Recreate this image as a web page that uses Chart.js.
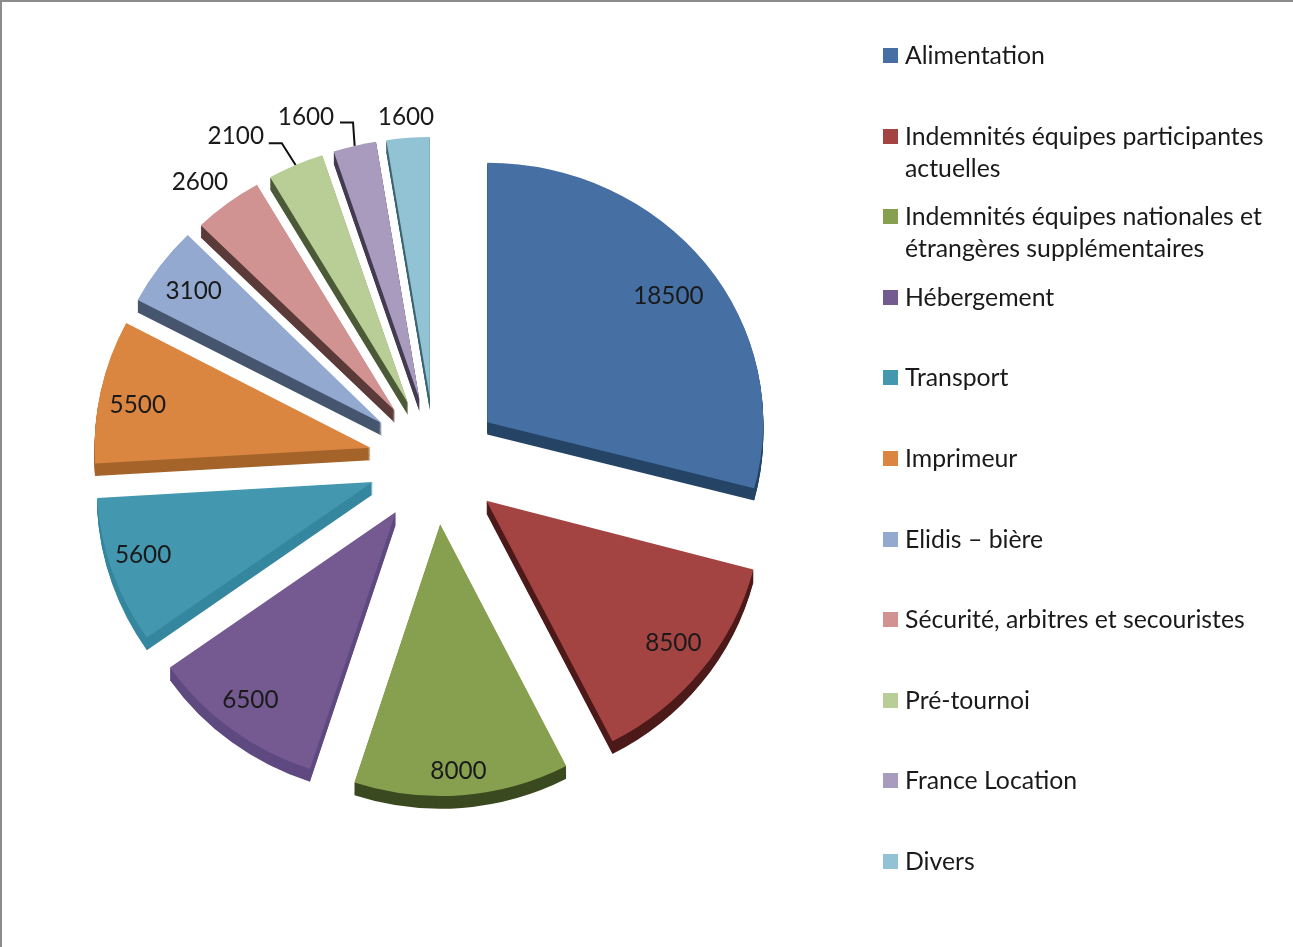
<!DOCTYPE html>
<html lang="fr">
<head>
<meta charset="utf-8">
<title>Budget</title>
<script src="https://cdn.jsdelivr.net/npm/chart.js@4"></script>
<style>
  html, body { margin: 0; padding: 0; background: #fff; }
  #wrap { position: relative; width: 1293px; height: 947px; overflow: hidden; }
  #frame { position: absolute; left: 0; top: 0; width: 1293px; height: 947px; box-sizing: border-box;
           border-left: 2px solid #8c8c8c; border-top: 2px solid #8c8c8c; pointer-events: none; }
  #legend { position: absolute; left: 883px; top: 0; width: 405px; font: 24.8px Lato, sans-serif; color: #1a1a1a; }
  .item { position: absolute; left: 0; width: 405px; padding-left: 22px; box-sizing: border-box; line-height: 32px; white-space: nowrap; }
  .item i { position: absolute; left: 0; top: 9px; width: 15px; height: 15px; }
</style>
</head>
<body>
<div id="wrap">
  <canvas id="pieChart" width="1293" height="947"></canvas>
  <div id="legend"></div>
  <div id="frame"></div>
</div>
<script>
const categories = [
  ['Alimentation'],
  ['Indemnités équipes participantes', 'actuelles'],
  ['Indemnités équipes nationales et', 'étrangères supplémentaires'],
  ['Hébergement'],
  ['Transport'],
  ['Imprimeur'],
  ['Elidis – bière'],
  ['Sécurité, arbitres et secouristes'],
  ['Pré-tournoi'],
  ['France Location'],
  ['Divers']
];
const amounts = [18500, 8500, 8000, 6500, 5600, 5500, 3100, 2600, 2100, 1600, 1600];

const topColors = ['#4670a3', '#a44442', '#87a04f', '#745a91', '#4398b0', '#da8640', '#93a9cf', '#d09392', '#b9cd96', '#a99bbd', '#92c3d4'];
const sideColors = ['#264566', '#4d1a1a', '#3b4a20', '#5f4a80', '#35879f', '#a5642a', '#47566f', '#5b3a3a', '#4c5a38', '#443c52', '#3d6672'];

// fake 3d look of the pie
const tilt = 0.96;
const depth = 13;
const explode = 66;
const sliceTilt = [0.94, 0.98, 0.985, 0.98, 0.98, 0.97, 0.96, 0.945, 0.945, 0.945, 0.945]; // near slices look longer

// label distance from the slice tip, then a small shift in px
const labelDist = [230, 232, 244, 236, 240, 236, 228, 300, 300, 300, 289];
const labelShift = [[-1, 9], [6, 3], [-1, 13], [-5, 6], [-3, -3], [-2, 5], [-5, -2], [-13, 0], [-50, -4], [-43, -2], [-1, -4]];
const leaders = { 8: [33, 7, 46, 7], 9: [34, 5, 47, 5] }; // start x,y and knee x,y from the label centre

function drawArcAs(ctx, arc, color) {
  const copy = Object.create(arc);
  copy.options = Object.assign({}, arc.options, { backgroundColor: color, borderWidth: 0, offset: 0 });
  copy.draw(ctx);
}

function tipOf(arc) {
  const mid = (arc.startAngle + arc.endAngle) / 2;
  return {
    mid,
    x: arc.x + Math.cos(mid) * explode,
    y: arc.y + Math.sin(mid) * explode * tilt
  };
}

const fakePie3d = {
  id: 'fakePie3d',
  beforeDatasetsDraw(chart) {
    const ctx = chart.ctx;
    const arcs = chart.getDatasetMeta(0).data;
    arcs.forEach((arc, i) => {
      const tip = tipOf(arc);
      ctx.save();
      ctx.translate(tip.x, tip.y);
      ctx.scale(1, sliceTilt[i]);
      ctx.translate(-arc.x, -arc.y);
      for (let d = depth; d > 0; d--) {
        ctx.save();
        ctx.translate(0, d);
        drawArcAs(ctx, arc, sideColors[i]);
        ctx.restore();
      }
      drawArcAs(ctx, arc, topColors[i]);
      ctx.restore();
    });
    return false;
  },
  afterDraw(chart) {
    const ctx = chart.ctx;
    const arcs = chart.getDatasetMeta(0).data;
    ctx.save();
    ctx.font = '24.3px Lato, sans-serif';
    ctx.fillStyle = '#1a1a1a';
    ctx.textAlign = 'center';
    ctx.textBaseline = 'middle';
    arcs.forEach((arc, i) => {
      const tip = tipOf(arc);
      const x = tip.x + Math.cos(tip.mid) * labelDist[i] + labelShift[i][0];
      const y = tip.y + Math.sin(tip.mid) * labelDist[i] * tilt + labelShift[i][1];
      ctx.fillText(String(amounts[i]), x, y);
      if (leaders[i]) {
        const l = leaders[i];
        ctx.beginPath();
        ctx.moveTo(x + l[0], y + l[1]);
        ctx.lineTo(x + l[2], y + l[3]);
        ctx.lineTo(tip.x + Math.cos(tip.mid) * arc.outerRadius, tip.y + Math.sin(tip.mid) * arc.outerRadius * sliceTilt[i]);
        ctx.strokeStyle = '#111';
        ctx.lineWidth = 2;
        ctx.stroke();
      }
    });
    ctx.restore();
  }
};

new Chart(document.getElementById('pieChart').getContext('2d'), {
  type: 'pie',
  data: {
    labels: categories.map(c => c.join(' ')),
    datasets: [{ data: amounts, backgroundColor: topColors, borderWidth: 0 }]
  },
  options: {
    responsive: false,
    animation: false,
    radius: 276,
    layout: { padding: { left: 0, top: 0, right: 423, bottom: 25 } },
    plugins: { legend: { display: false }, tooltip: { enabled: false } }
  },
  plugins: [fakePie3d]
});

// legend on the right, one row every 80.6 px
const legend = document.getElementById('legend');
categories.forEach((lines, i) => {
  const row = document.createElement('div');
  row.className = 'item';
  row.style.top = (39 + i * 80.6) + 'px';
  const box = document.createElement('i');
  box.style.background = topColors[i];
  row.appendChild(box);
  lines.forEach((line, n) => {
    if (n) row.appendChild(document.createElement('br'));
    row.appendChild(document.createTextNode(line));
  });
  legend.appendChild(row);
});
</script>
</body>
</html>
